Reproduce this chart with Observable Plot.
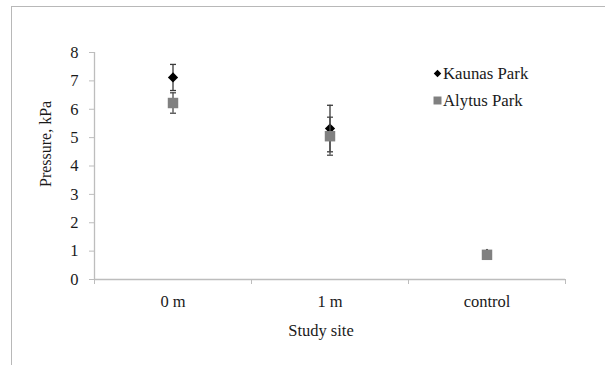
<!DOCTYPE html>
<html><head><meta charset="utf-8">
<script src="https://cdn.jsdelivr.net/npm/d3@7"></script>
<script src="https://cdn.jsdelivr.net/npm/@observablehq/plot@0.6"></script>
<style>
body{margin:0;background:#fff;}
#wrap{position:relative;width:605px;height:365px;overflow:hidden;background:#fff;}
#frame{position:absolute;left:11px;top:6px;width:700px;height:500px;border-left:1.5px solid #b8b8b8;border-top:1.5px solid #b8b8b8;}
#chart{position:absolute;left:0;top:0;}
#chart svg, #chart svg text{font-family:'Liberation Serif','Times New Roman',serif !important;}
</style></head><body>
<div id="wrap"><div id="frame"></div><div id="chart"></div></div>
<script>
const sites = ["0 m", "1 m", "control"];
const seriesNames = ["Kaunas Park", "Alytus Park"];
const kaunasMean = [7.12, 5.32, 0.9];
const kaunasErr = [0.46, 0.82, 0.07];
const alytusMean = [6.22, 5.05, 0.87];
const alytusErr = [0.36, 0.67, 0.08];
const yTicks = [0, 1, 2, 3, 4, 5, 6, 7, 8];
const yLabel = "Pressure, kPa";
const xLabel = "Study site";

const font = "'Liberation Serif', 'Times New Roman', serif";
const kaunas = sites.map((s, i) => ({site: s, i, mean: kaunasMean[i], err: kaunasErr[i]}));
const alytus = sites.map((s, i) => ({site: s, i, mean: alytusMean[i], err: alytusErr[i]}));
const pos = d => d.i + 0.5;

const cap = {draw(ctx, size) { const w = Math.sqrt(size); ctx.moveTo(-w / 2, 0); ctx.lineTo(w / 2, 0); }};

function errMarks(data, color) {
  return [
    Plot.ruleX(data, {x: pos, y1: d => d.mean - d.err, y2: d => d.mean + d.err, stroke: color, strokeWidth: 1.3}),
    Plot.dot(data, {x: pos, y: d => d.mean + d.err, symbol: cap, r: 3.4, stroke: color, strokeWidth: 1.3}),
    Plot.dot(data, {x: pos, y: d => d.mean - d.err, symbol: cap, r: 3.4, stroke: color, strokeWidth: 1.3})
  ];
}

const chart = Plot.plot({
  width: 605,
  height: 365,
  marginLeft: 94,
  marginRight: 40,
  marginTop: 52,
  marginBottom: 86,
  style: {fontFamily: font, fontSize: "16px", color: "#1a1a1a", background: "transparent", overflow: "visible"},
  x: {domain: [0, 3]},
  y: {domain: [0, 8]},
  marks: [
    Plot.ruleY([0], {stroke: "#bdbdbd", strokeWidth: 1.3}),
    Plot.ruleX([0], {stroke: "#bdbdbd", strokeWidth: 1.3}),
    Plot.axisY({ticks: yTicks, tickSize: 5, tickPadding: 11, stroke: "#bdbdbd", fill: "#1a1a1a", label: null, fontSize: 16.5, fontFamily: font}),
    Plot.axisX({ticks: [0, 1, 2, 3], tickSize: 5, tickFormat: () => "", stroke: "#bdbdbd", label: null}),
    Plot.axisX({ticks: sites.map((s, i) => i + 0.5), tickSize: 0, tickPadding: 16, tickFormat: t => sites[Math.round(t - 0.5)], fill: "#1a1a1a", label: null, fontSize: 16.5, fontFamily: font}),
    Plot.text([yLabel], {frameAnchor: "left", text: d => d, rotate: -90, dx: -48.5, dy: 21, fill: "#1a1a1a", fontSize: 16, fontFamily: font}),
    Plot.text([xLabel], {frameAnchor: "bottom", text: d => d, dx: -9, dy: 51, lineAnchor: "middle", fill: "#1a1a1a", fontSize: 16.5, fontFamily: font}),
    ...errMarks(kaunas, "#3a3a3a"),
    Plot.dot(kaunas, {x: pos, y: "mean", symbol: "diamond2", r: 4.6, fill: "#000"}),
    ...errMarks(alytus, "#4a4a4a"),
    Plot.dot(alytus, {x: pos, y: "mean", symbol: "square", r: 5.9, fill: "#808080"}),
    // legend
    Plot.dot([seriesNames[0]], {frameAnchor: "top-left", dx: 343, dy: 21, symbol: "diamond2", r: 3.4, fill: "#000"}),
    Plot.dot([seriesNames[1]], {frameAnchor: "top-left", dx: 343, dy: 48, symbol: "square", r: 4.5, fill: "#808080"}),
    Plot.text([seriesNames[0]], {frameAnchor: "top-left", text: d => d, dx: 348.5, dy: 21, lineAnchor: "middle", textAnchor: "start", fill: "#1a1a1a", fontSize: 16.8, fontFamily: font}),
    Plot.text([seriesNames[1]], {frameAnchor: "top-left", text: d => d, dx: 348.5, dy: 48, lineAnchor: "middle", textAnchor: "start", fill: "#1a1a1a", fontSize: 16.8, fontFamily: font})
  ]
});
document.getElementById("chart").appendChild(chart);
</script>
</body></html>
